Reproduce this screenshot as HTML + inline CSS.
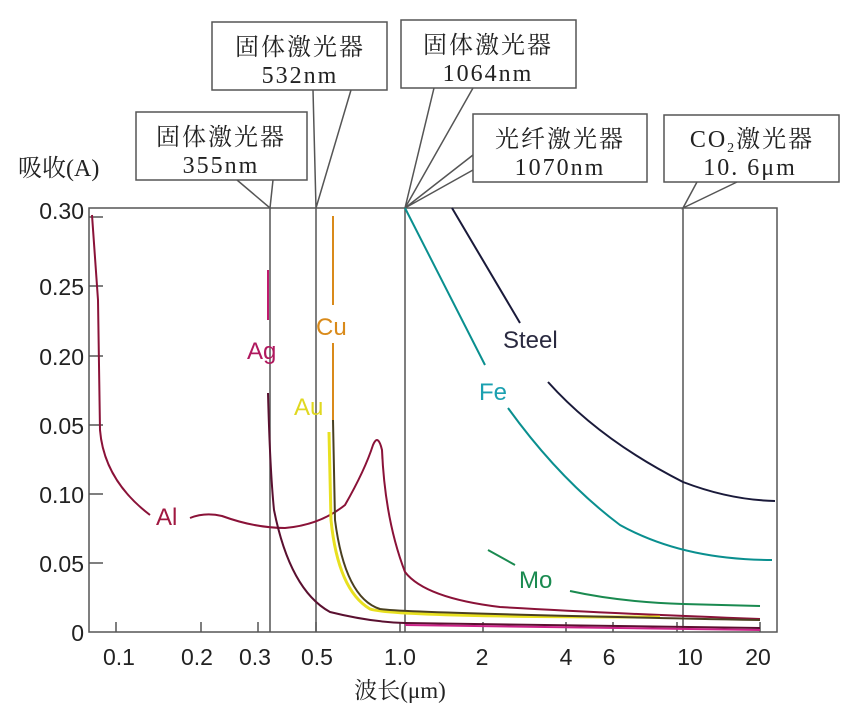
<!DOCTYPE html>
<html><head><meta charset="utf-8"><style>
html,body{margin:0;padding:0;background:#fff;}
svg{display:block}
.t{font-family:"Liberation Sans","Noto Sans CJK SC",sans-serif;font-size:23px;fill:#222}
.s{font-family:"Liberation Serif","Noto Serif CJK SC",serif;font-size:24px;fill:#222;letter-spacing:2px}
</style></head><body>
<svg width="850" height="719" viewBox="0 0 850 719" xmlns="http://www.w3.org/2000/svg">
<g fill="none" stroke="#555" stroke-width="1.5">
<rect x="89" y="208" width="688" height="424"/>
<line x1="270" y1="208" x2="270" y2="632"/>
<line x1="316" y1="208" x2="316" y2="632"/>
<line x1="405" y1="208" x2="405" y2="632"/>
<line x1="683" y1="208" x2="683" y2="632"/>
<path d="M89 217h14M89 286h14M89 356h14M89 425h14M89 494h14M89 563h14"/>
<path d="M116 632v-10M201 632v-10M258 632v-10M316 632v-10M400 632v-10M483 632v-10M566 632v-10M613 632v-10M677 632v-10M760 632v-10"/>
<rect x="136" y="112" width="171" height="68" fill="#fff"/>
<path d="M237 180L270 208L273 180"/>
<rect x="212" y="22" width="175" height="68" fill="#fff"/>
<path d="M313 90L316 208L351 90"/>
<rect x="401" y="20" width="175" height="68" fill="#fff"/>
<path d="M434 88L405 208L473 88"/>
<rect x="473" y="114" width="174" height="68" fill="#fff"/>
<path d="M473 155L405 208L473 170"/>
<rect x="664" y="115" width="175" height="67" fill="#fff"/>
<path d="M697 182L683 208L737 182"/>
</g>
<text class="s" x="221" y="145" text-anchor="middle">固体激光器</text>
<text class="s" x="221" y="173" text-anchor="middle">355nm</text>
<text class="s" x="300" y="55" text-anchor="middle">固体激光器</text>
<text class="s" x="300" y="83" text-anchor="middle">532nm</text>
<text class="s" x="488" y="53" text-anchor="middle">固体激光器</text>
<text class="s" x="488" y="81" text-anchor="middle">1064nm</text>
<text class="s" x="560" y="147" text-anchor="middle">光纤激光器</text>
<text class="s" x="560" y="175" text-anchor="middle">1070nm</text>
<text class="s" x="752" y="147" text-anchor="middle">CO<tspan font-size="14" dy="5">2</tspan><tspan dy="-5">激光器</tspan></text>
<text class="s" x="750" y="175" text-anchor="middle">10. 6μm</text>
<text class="s" x="18" y="176" style="letter-spacing:0">吸收(A)</text>
<g class="t" text-anchor="end">
<text x="84" y="219">0.30</text><text x="84" y="295">0.25</text><text x="84" y="365">0.20</text>
<text x="84" y="434">0.05</text><text x="84" y="503">0.10</text><text x="84" y="572">0.05</text><text x="84" y="641">0</text>
</g>
<g class="t" text-anchor="middle">
<text x="119" y="665">0.1</text><text x="197" y="665">0.2</text><text x="255" y="665">0.3</text><text x="317" y="665">0.5</text>
<text x="400" y="665">1.0</text><text x="482" y="665">2</text><text x="566" y="665">4</text><text x="609" y="665">6</text>
<text x="690" y="665">10</text><text x="758" y="665">20</text>
</g>
<text class="t" x="400" y="698" text-anchor="middle" style="font-family:'Liberation Serif','Noto Serif CJK SC',serif">波长(μm)</text>
<g fill="none" stroke-width="2">
<path stroke="#8a1238" d="M92 215L98 300L100 430Q104 480 150 515M190 518Q205 512 222 516Q255 528 285 528Q320 525 345 505Q365 470 373 445Q378 433 382 450Q385 520 405 572Q425 598 500 607Q600 613 760 619"/>
<path stroke="#c01a6e" d="M268 270V320"/>
<path stroke="#5a1030" d="M268 393Q270 470 274 510Q290 590 330 612Q370 622 405 623L760 628"/>
<path stroke="#cc2288" d="M405 625L760 630"/>
<path stroke="#d98a1a" d="M333 216V305M333 343V420"/>
<path stroke="#e8e020" stroke-width="3" d="M329 432L331 520Q338 590 370 609Q395 617 660 617"/>
<path stroke="#4a4020" d="M333 420L335 520Q345 598 380 609Q400 613 760 620"/>
<path stroke="#0a8f8f" d="M405 208L485 365M508 408Q560 480 620 525Q683 560 772 560"/>
<path stroke="#1a1a3a" d="M452 208L520 323M548 382Q600 440 683 482Q730 500 775 501"/>
<path stroke="#1a8a50" d="M488 550L515 565M570 591Q620 602 683 604L760 606"/>
</g>
<g style="font-family:'Liberation Sans',sans-serif;font-size:24px">
<text x="156" y="525" fill="#a01840">Al</text>
<text x="247" y="359" fill="#b0185e">Ag</text>
<text x="316" y="335" fill="#d98a1a">Cu</text>
<text x="294" y="415" fill="#e0d820">Au</text>
<text x="479" y="400" fill="#1aa0b0">Fe</text>
<text x="503" y="348" fill="#2a2a40">Steel</text>
<text x="519" y="588" fill="#1a8a50">Mo</text>
</g>
</svg>
</body></html>
